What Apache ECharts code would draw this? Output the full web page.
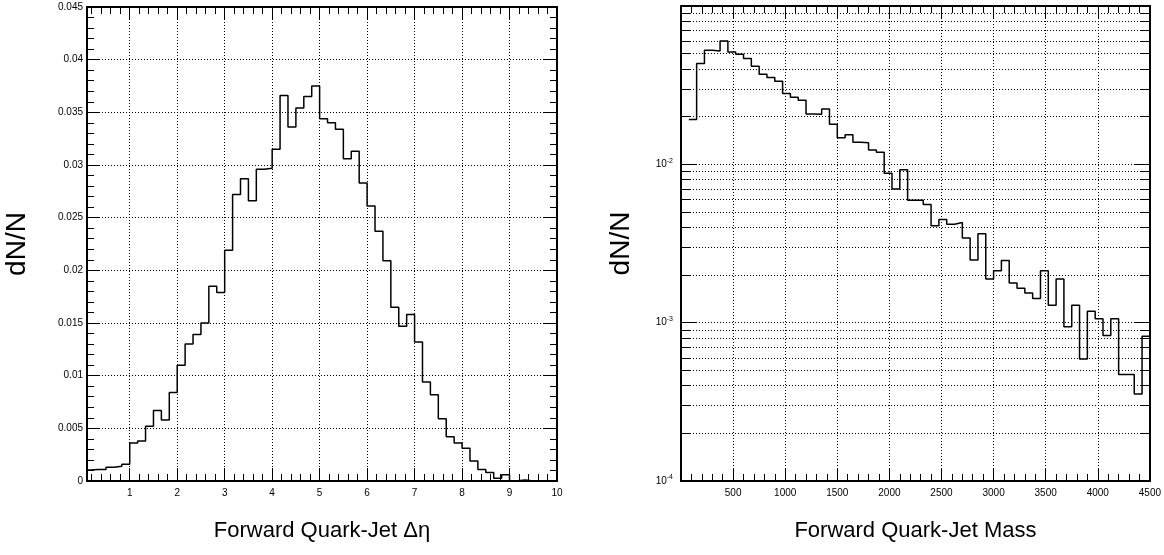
<!DOCTYPE html>
<html>
<head>
<meta charset="utf-8">
<script src="https://cdn.jsdelivr.net/npm/echarts@6/dist/echarts.min.js"></script>
<style>
  html, body { margin: 0; padding: 0; background: #fff; }
  #chart { width: 1164px; height: 555px; }
</style>
</head>
<body>
<div id="chart"></div>
<script>
// Forward quark-jet delta-eta, 60 bins of 1/6 from 0 to 10
const etaBinWidth = 1 / 6;
const etaValues = [
  0.00105, 0.0011, 0.0011, 0.0013, 0.0014, 0.0016, 0.0036, 0.0038, 0.0052, 0.0067,
  0.0058, 0.0084, 0.0110, 0.0130, 0.0139, 0.0150, 0.0185, 0.0179, 0.0219, 0.0272,
  0.0287, 0.0266, 0.0296, 0.0297, 0.0315, 0.0366, 0.0336, 0.0354, 0.0365, 0.0375,
  0.0344, 0.0340, 0.0334, 0.0306, 0.0313, 0.0283, 0.0261, 0.0237, 0.0209, 0.0165,
  0.0147, 0.0158, 0.0132, 0.0094, 0.0082, 0.0059, 0.0042, 0.0036, 0.0031, 0.0019,
  0.0011, 0.0008, 0.00025, 0.0006, 0.00002, 0.0001, 0, 0, 0, 0
];

// Forward quark-jet mass, 60 bins of 75 from 0 to 4500 (first bin empty)
const massBinWidth = 75;
const massValues = [
  null, 0.0192, 0.0433, 0.0525, 0.0520, 0.0601, 0.0513, 0.0495, 0.0466, 0.0416,
  0.0371, 0.0353, 0.0335, 0.0280, 0.0265, 0.0254, 0.0208, 0.0207, 0.0224, 0.0179,
  0.0147, 0.0154, 0.0138, 0.0137, 0.0123, 0.0119, 0.00878, 0.00699, 0.00925, 0.00593,
  0.00593, 0.00557, 0.0041, 0.00448, 0.00419, 0.00429, 0.00342, 0.00249, 0.00364, 0.00189,
  0.00213, 0.00247, 0.00178, 0.00165, 0.00154, 0.00142, 0.00213, 0.00129, 0.00189, 0.000944,
  0.00129, 0.00059, 0.00118, 0.00106, 0.00083, 0.00106, 0.00047, 0.00047, 0.000355, 0.00082
];

const etaMajorTicks = [1, 2, 3, 4, 5, 6, 7, 8, 9, 10];
const etaMinorTicks = [];
for (let i = 1; i < 50; i++) etaMinorTicks.push(+(i * 0.2).toFixed(1));

const massDecades = [1e-4, 1e-3, 1e-2, 1e-1];
const massDecadeLabels = [1e-4, 1e-3, 1e-2];
const massMinorTicks = [];
[1e-4, 1e-3, 1e-2].forEach(d => {
  for (let m = 1; m <= 9; m++) massMinorTicks.push(+(m * d).toPrecision(2));
});
massMinorTicks.push(1e-1);

const FONT = "'Liberation Sans Narrow', 'Arial Narrow', 'Liberation Sans', sans-serif";
const frameLine = { show: true, lineStyle: { color: '#000', width: 2 } };
const gridDots = { show: true, lineStyle: { color: '#000', width: 1, type: [1, 2] } };
const yTitle = { color: '#000', fontFamily: "'Liberation Sans', sans-serif", fontSize: 28 };
const xTitle = { color: '#000', fontFamily: FONT, fontSize: 22 };

function toSteps(values, width, x0) {
  const pts = [];
  values.forEach((v, i) => {
    if (v === null) return;
    pts.push([x0 + i * width, v]);
  });
  pts.push([x0 + values.length * width, values[values.length - 1]]);
  return pts;
}

function etaX(position, major, withLabels) {
  return {
    type: 'value', gridIndex: 0, position: position,
    min: 0.1, max: 10,
    axisLine: major ? frameLine : { show: false },
    axisTick: {
      inside: true, length: major ? 13 : 7,
      customValues: major ? etaMajorTicks : etaMinorTicks,
      lineStyle: { color: '#000', width: 1 }
    },
    axisLabel: withLabels ? {
      customValues: etaMajorTicks, color: '#000', fontFamily: FONT, fontSize: 10, margin: 7
    } : { show: false },
    splitLine: withLabels ? gridDots : { show: false }
  };
}

function massX(position, withLabels) {
  return {
    type: 'value', gridIndex: 1, position: position,
    min: 0, max: 4500, interval: 500,
    axisLine: frameLine,
    axisTick: { inside: true, length: 13, lineStyle: { color: '#000', width: 1 } },
    minorTick: { show: true, splitNumber: 5, length: 7, lineStyle: { color: '#000', width: 1 } },
    axisLabel: withLabels ? {
      color: '#000', fontFamily: FONT, fontSize: 10, margin: 7,
      formatter: v => (v === 0 ? '' : String(v))
    } : { show: false },
    splitLine: withLabels ? gridDots : { show: false }
  };
}

function etaY(position, withLabels) {
  return {
    type: 'value', gridIndex: 0, position: position,
    min: 0, max: 0.045, interval: 0.005,
    axisLine: frameLine,
    axisTick: { inside: true, length: 13, lineStyle: { color: '#000', width: 1 } },
    minorTick: { show: true, splitNumber: 5, length: 7, lineStyle: { color: '#000', width: 1 } },
    axisLabel: withLabels ? { color: '#000', fontFamily: FONT, fontSize: 10, margin: 4 } : { show: false },
    splitLine: withLabels ? gridDots : { show: false },
    name: withLabels ? 'dN/N' : '',
    nameLocation: 'middle', nameGap: 56, nameRotate: 90,
    nameTextStyle: yTitle
  };
}

function massY(position, major, withLabels) {
  return {
    type: 'log', logBase: 10, gridIndex: 1, position: position,
    min: 1e-4, max: 1e-1,
    axisLine: major ? frameLine : { show: false },
    axisTick: {
      inside: true, length: major ? 15 : 9,
      customValues: major ? massDecades : massMinorTicks,
      lineStyle: { color: '#000', width: 1 }
    },
    axisLabel: withLabels ? {
      customValues: massDecadeLabels, margin: 8,
      formatter: v => '{b|10}{s|' + Math.round(Math.log10(v)) + '}',
      rich: {
        b: { color: '#000', fontFamily: FONT, fontSize: 10, lineHeight: 14 },
        s: { color: '#000', fontFamily: FONT, fontSize: 7, lineHeight: 14, verticalAlign: 'top', padding: [0, 0, 6, 0] }
      }
    } : { show: false },
    splitLine: (!major && position === 'left') ? gridDots : { show: false },
    name: withLabels ? 'dN/N' : '',
    nameLocation: 'middle', nameGap: 46, nameRotate: 90,
    nameTextStyle: yTitle
  };
}

const chart = echarts.init(document.getElementById('chart'), null, { renderer: 'canvas' });

chart.setOption({
  animation: false,
  backgroundColor: '#fff',
  grid: [
    { left: 87, top: 7, width: 470, height: 474 },
    { left: 681, top: 6, width: 470, height: 475 }
  ],
  xAxis: [
    Object.assign(etaX('bottom', true, true), {
      name: 'Forward Quark-Jet \u0394\u03b7', nameLocation: 'middle', nameGap: 39,
      nameTextStyle: xTitle
    }),
    etaX('bottom', false, false),
    etaX('top', true, false),
    etaX('top', false, false),
    Object.assign(massX('bottom', true), {
      name: 'Forward Quark-Jet Mass', nameLocation: 'middle', nameGap: 39,
      nameTextStyle: xTitle
    }),
    massX('top', false)
  ],
  yAxis: [
    etaY('left', true),
    etaY('right', false),
    massY('left', true, true),
    massY('left', false, false),
    massY('right', true, false),
    massY('right', false, false)
  ],
  series: [
    {
      name: 'deta', type: 'line', xAxisIndex: 0, yAxisIndex: 0,
      step: 'end', symbol: 'none', clip: true,
      lineStyle: { color: '#000', width: 1.5 },
      data: toSteps(etaValues, etaBinWidth, 0)
    },
    {
      name: 'mass', type: 'line', xAxisIndex: 4, yAxisIndex: 2,
      step: 'end', symbol: 'none', clip: true,
      lineStyle: { color: '#000', width: 1.5 },
      data: toSteps(massValues, massBinWidth, 0)
    }
  ]
});
</script>
</body>
</html>
